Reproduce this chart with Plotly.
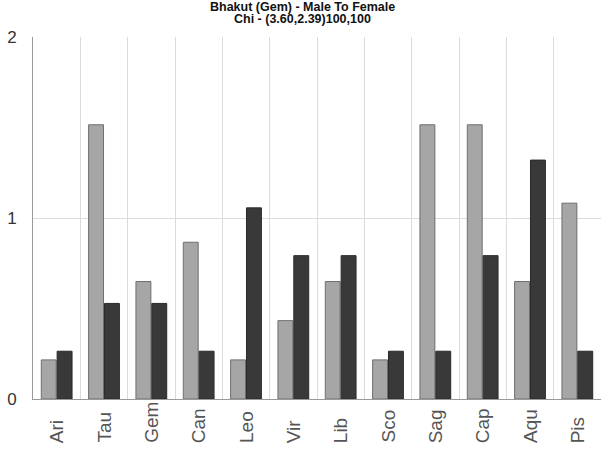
import plotly.graph_objects as go

signs = ["Ari", "Tau", "Gem", "Can", "Leo", "Vir", "Lib", "Sco", "Sag", "Cap", "Aqu", "Pis"]
male = [0.216, 1.515, 0.649, 0.866, 0.216, 0.433, 0.649, 0.216, 1.515, 1.515, 0.649, 1.082]
female = [0.264, 0.528, 0.528, 0.264, 1.056, 0.792, 0.792, 0.264, 0.264, 0.792, 1.32, 0.264]
title_lines = ["Bhakut (Gem) - Male To Female", "Chi - (3.60,2.39)100,100"]

W, H = 605, 455
ML, MR, MT, MB = 33, 4, 37, 56
plot_h = H - MT - MB
plot_w = W - ML - MR

fig = go.Figure()
fig.add_trace(go.Bar(x=signs, y=male, name="Male",
                     marker=dict(color="#a6a6a6", line=dict(color="#6e6e6e", width=1))))
fig.add_trace(go.Bar(x=signs, y=female, name="Female",
                     marker=dict(color="#393939", line=dict(color="#2a2a2a", width=1))))

annotations = []
# title lines
for i, line in enumerate(title_lines):
    annotations.append(dict(
        text="<b>" + line + "</b>", xref="paper", yref="paper",
        x=(W / 2 - ML) / plot_w, xanchor="center",
        y=1 + (MT - 7 - 12 * i) / plot_h, yanchor="middle",
        showarrow=False, font=dict(family="Liberation Sans, Arial", size=12.5, color="#111")))
# x category labels, bottom aligned
for s in signs:
    annotations.append(dict(
        text=s, x=s, xref="x", yref="paper", y=-(445 - (H - MB)) / plot_h, yanchor="bottom",
        xanchor="center", textangle=-90, showarrow=False,
        font=dict(family="Liberation Sans, Arial", size=19, color="#555")))

fig.update_layout(
    width=W, height=H,
    margin=dict(l=ML, r=MR, t=MT, b=MB, autoexpand=False),
    paper_bgcolor="white", plot_bgcolor="white",
    showlegend=False,
    barmode="group", bargap=0.33, bargroupgap=0.06,
    font=dict(family="Liberation Sans, Arial"),
    annotations=annotations,
)
fig.update_xaxes(
    type="category", tickson="boundaries", showgrid=True, gridcolor="#dcdcdc", gridwidth=1,
    ticks="", showticklabels=False,
    showline=True, linecolor="#999", linewidth=1, mirror=False,
)
fig.update_yaxes(
    range=[0, 2], tickvals=[0, 1, 2], showgrid=True, gridcolor="#dcdcdc", gridwidth=1,
    ticks="", tickfont=dict(size=17, color="#333"), ticklabelstandoff=12,
    showline=True, linecolor="#999", linewidth=1, zeroline=False,
)
fig.write_html("out.html", config={"displayModeBar": False},
               post_script="document.body.style.margin='0';document.body.style.overflow='hidden';")
